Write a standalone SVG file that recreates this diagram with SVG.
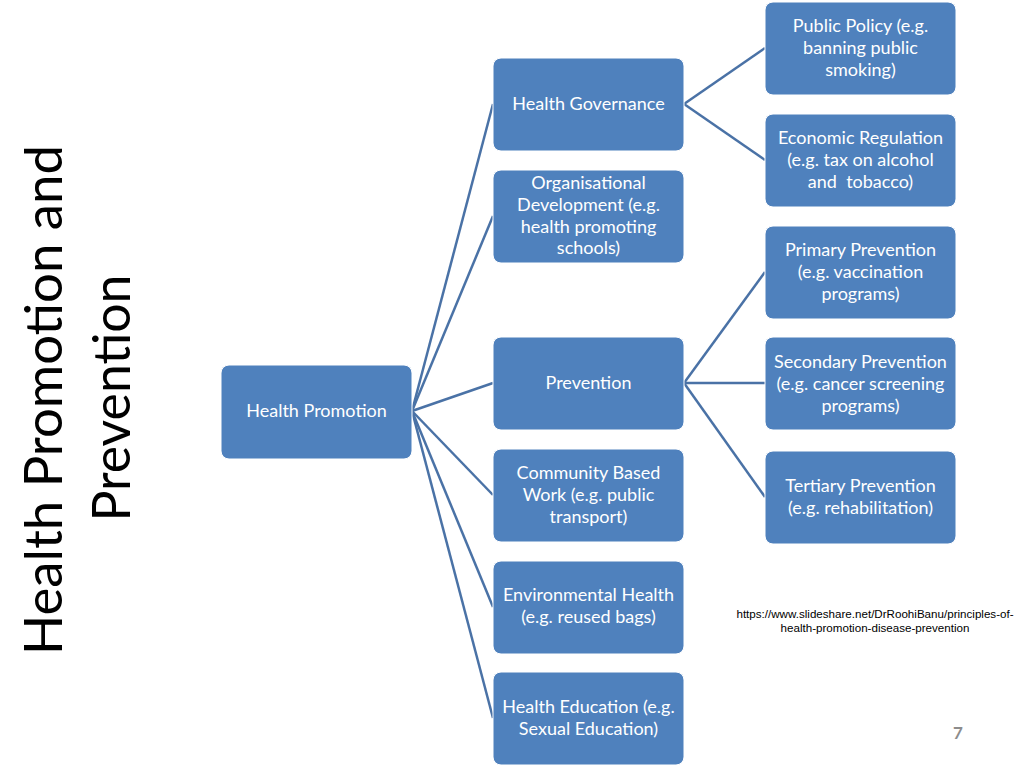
<svg xmlns="http://www.w3.org/2000/svg" width="1024" height="768" viewBox="0 0 1024 768">
<style>
.box{fill:#4F81BD;stroke:#ffffff;stroke-width:1}
.t{font-family:Lato,"Open Sans",sans-serif;font-size:18px;fill:#ffffff;text-anchor:middle}
.c{stroke:#4A72A6;stroke-width:2.5;fill:none}
.title{font-family:Lato,"Open Sans",sans-serif;font-size:52px;fill:#000;text-anchor:middle}
.src{font-family:"Liberation Sans",Arial,sans-serif;font-size:11.6px;fill:#000;text-anchor:middle}
</style>
<rect width="1024" height="768" fill="#ffffff"/>
<g id="title">
<text class="title" transform="translate(62,400) rotate(-90)" textLength="510" lengthAdjust="spacingAndGlyphs">Health Promotion and</text>
<text class="title" transform="translate(130,398) rotate(-90)" textLength="247" lengthAdjust="spacingAndGlyphs">Prevention</text>
</g>
<g id="connectors">
<line class="c" x1="412" y1="411" x2="493" y2="104"/>
<line class="c" x1="412" y1="411" x2="493" y2="216"/>
<line class="c" x1="412" y1="411" x2="493" y2="383"/>
<line class="c" x1="412" y1="411" x2="493" y2="495"/>
<line class="c" x1="412" y1="411" x2="493" y2="607"/>
<line class="c" x1="412" y1="411" x2="493" y2="718"/>
<line class="c" x1="684" y1="104" x2="765" y2="48"/>
<line class="c" x1="684" y1="104" x2="765" y2="160"/>
<line class="c" x1="684" y1="383" x2="765" y2="272"/>
<line class="c" x1="684" y1="383" x2="765" y2="383"/>
<line class="c" x1="684" y1="383" x2="765" y2="497"/>
</g>
<g id="health-promotion">
<rect class="box" x="221" y="365" width="191" height="94" rx="8"/>
<text class="t" x="316.5" y="417">Health Promotion</text>
</g>
<g id="health-governance">
<rect class="box" x="493" y="58" width="191" height="93" rx="8"/>
<text class="t" x="588.5" y="110">Health Governance</text>
</g>
<g id="organisational-development">
<rect class="box" x="493" y="170" width="191" height="93" rx="8"/>
<text class="t" x="588.5" y="189">Organisational</text>
<text class="t" x="588.5" y="211">Development (e.g.</text>
<text class="t" x="588.5" y="233">health promoting</text>
<text class="t" x="588.5" y="254">schools)</text>
</g>
<g id="prevention">
<rect class="box" x="493" y="337" width="191" height="93" rx="8"/>
<text class="t" x="588.5" y="389">Prevention</text>
</g>
<g id="community-based-work">
<rect class="box" x="493" y="449" width="191" height="93" rx="8"/>
<text class="t" x="588.5" y="479">Community Based</text>
<text class="t" x="588.5" y="501">Work (e.g. public</text>
<text class="t" x="588.5" y="523">transport)</text>
</g>
<g id="environmental-health">
<rect class="box" x="493" y="561" width="191" height="93" rx="8"/>
<text class="t" x="588.5" y="601">Environmental Health</text>
<text class="t" x="588.5" y="623">(e.g. reused bags)</text>
</g>
<g id="health-education">
<rect class="box" x="493" y="672" width="191" height="93" rx="8"/>
<text class="t" x="588.5" y="713">Health Education (e.g.</text>
<text class="t" x="588.5" y="735">Sexual Education)</text>
</g>
<g id="public-policy">
<rect class="box" x="765" y="2" width="191" height="93" rx="8"/>
<text class="t" x="860.5" y="32">Public Policy (e.g.</text>
<text class="t" x="860.5" y="54">banning public</text>
<text class="t" x="860.5" y="76">smoking)</text>
</g>
<g id="economic-regulation">
<rect class="box" x="765" y="114" width="191" height="93" rx="8"/>
<text class="t" x="860.5" y="144">Economic Regulation</text>
<text class="t" x="860.5" y="166">(e.g. tax on alcohol</text>
<text class="t" x="860.5" y="188" xml:space="preserve">and  tobacco)</text>
</g>
<g id="primary-prevention">
<rect class="box" x="765" y="226" width="191" height="93" rx="8"/>
<text class="t" x="860.5" y="256">Primary Prevention</text>
<text class="t" x="860.5" y="278">(e.g. vaccination</text>
<text class="t" x="860.5" y="300">programs)</text>
</g>
<g id="secondary-prevention">
<rect class="box" x="765" y="337" width="191" height="93" rx="8"/>
<text class="t" x="860.5" y="368">Secondary Prevention</text>
<text class="t" x="860.5" y="390">(e.g. cancer screening</text>
<text class="t" x="860.5" y="412">programs)</text>
</g>
<g id="tertiary-prevention">
<rect class="box" x="765" y="451" width="191" height="93" rx="8"/>
<text class="t" x="860.5" y="492">Tertiary Prevention</text>
<text class="t" x="860.5" y="514">(e.g. rehabilitation)</text>
</g>
<g id="source">
<text class="src" x="875" y="618">https://www.slideshare.net/DrRoohiBanu/principles-of-</text>
<text class="src" x="875" y="632">health-promotion-disease-prevention</text>
</g>
<text x="958" y="739" font-family="Lato,sans-serif" font-size="17" font-weight="bold" fill="#8C8C8C" text-anchor="middle">7</text>
</svg>
